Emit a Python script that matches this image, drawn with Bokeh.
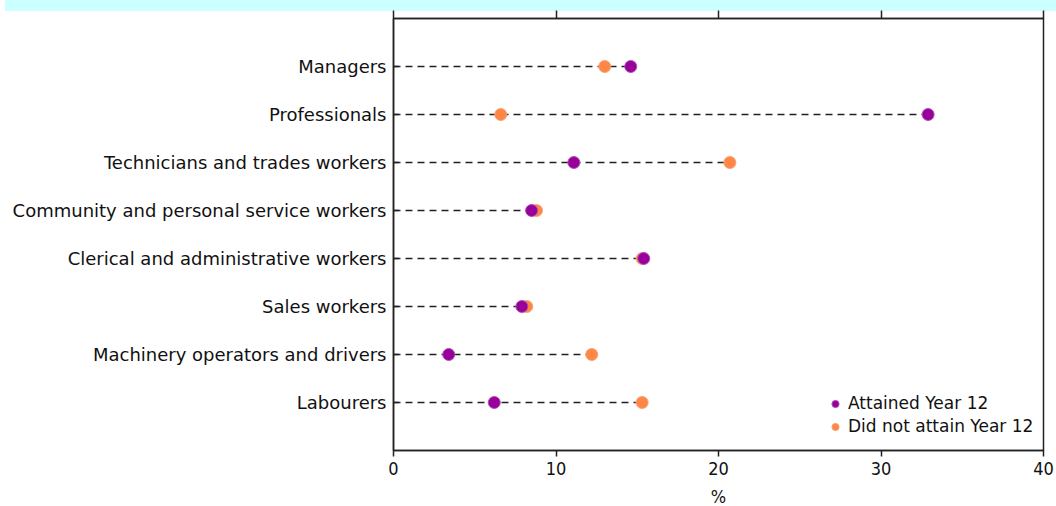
from bokeh.plotting import figure
from bokeh.models import (ColumnDataSource, FactorRange, Range1d, LinearAxis,
                          FixedTicker, Legend, LegendItem, Div, CustomLabelingPolicy)
from bokeh.layouts import column
from bokeh.embed import file_html
from bokeh.resources import INLINE

categories = [
    "Managers",
    "Professionals",
    "Technicians and trades workers",
    "Community and personal service workers",
    "Clerical and administrative workers",
    "Sales workers",
    "Machinery operators and drivers",
    "Labourers",
]
attained = [14.6, 32.9, 11.1, 8.5, 15.4, 7.9, 3.4, 6.2]
not_attained = [13.0, 6.6, 20.7, 8.8, 15.3, 8.2, 12.2, 15.3]
x_ticks = [0, 10, 20, 30, 40]
series_names = ["Attained Year 12", "Did not attain Year 12"]
x_label = "%"

PURPLE = "#990099"
ORANGE = "#ff8644"
AXIS = "#222222"

src = ColumnDataSource(dict(
    cat=categories,
    att=attained,
    nat=not_attained,
    hi=[max(a, b) for a, b in zip(attained, not_attained)],
))

factors = list(reversed(categories))
p = figure(
    y_range=FactorRange(*factors, range_padding=0.5, range_padding_units="absolute"),
    x_range=Range1d(0, 40),
    frame_width=650, frame_height=432,
    min_border_left=393, min_border_right=13, min_border_top=0, min_border_bottom=40,
    output_backend="svg", toolbar_location=None,
)
p.xgrid.visible = False
p.ygrid.visible = False
p.outline_line_color = AXIS
p.outline_line_width = 1.5
p.background_fill_color = "white"
p.border_fill_color = None

p.segment(x0=0, y0="cat", x1="hi", y1="cat", source=src,
          line_color="#222222", line_width=1.6, line_dash="7 5")
r_nat = p.scatter(x="nat", y="cat", source=src, size=12,
                  fill_color=ORANGE, line_color="#f6a477", line_width=1)
r_att = p.scatter(x="att", y="cat", source=src, size=12,
                  fill_color=PURPLE, line_color="#b050b8", line_width=1)

# bottom axis
xa = p.xaxis[0]
xa.ticker = FixedTicker(ticks=x_ticks)
xa.minor_tick_line_color = None
xa.major_tick_in = 0
xa.major_tick_out = 6
xa.axis_line_color = AXIS
xa.axis_line_width = 1.5
xa.major_tick_line_color = AXIS
xa.major_tick_line_width = 1.5
xa.major_label_text_font = "DejaVu Sans Condensed"
xa.major_label_text_font_size = "18px"
xa.major_label_text_color = "#111111"
xa.major_label_standoff = 5
xa.axis_label = x_label
xa.axis_label_text_font = "DejaVu Sans Condensed"
xa.axis_label_text_font_size = "18px"
xa.axis_label_text_font_style = "normal"
xa.axis_label_text_color = "#111111"
xa.axis_label_standoff = 8

# left axis
ya = p.yaxis[0]
ya.major_tick_in = 5
ya.major_tick_out = 0
ya.axis_line_color = AXIS
ya.axis_line_width = 1.5
ya.major_tick_line_color = AXIS
ya.major_tick_line_width = 1.5
ya.major_label_text_font = "DejaVu Sans"
ya.major_label_text_font_size = "18px"
ya.major_label_text_color = "#111111"
ya.major_label_standoff = 7

# top axis (ticks only, labels suppressed)
top = LinearAxis(ticker=FixedTicker(ticks=x_ticks))
top.minor_tick_line_color = None
top.major_tick_in = 0
top.major_tick_out = 8
top.major_label_policy = CustomLabelingPolicy(code="return new Set()")
top.major_label_text_font_size = "0px"
top.major_label_standoff = 0
top.axis_label_standoff = 0
top.axis_line_color = AXIS
top.axis_line_width = 1.5
top.major_tick_line_color = AXIS
top.major_tick_line_width = 1.5
p.add_layout(top, "above")

legend = Legend(
    items=[LegendItem(label=series_names[0], renderers=[r_att]),
           LegendItem(label=series_names[1], renderers=[r_nat])],
    location=(433, 12),
    glyph_width=18, glyph_height=23, label_height=21, spacing=0, label_standoff=4,
    padding=0, margin=0,
    border_line_color=None, background_fill_alpha=0,
    label_text_font="DejaVu Sans", label_text_font_size="17px",
    label_text_color="#111111",
)
p.add_layout(legend)

band = Div(text="", width=1056, height=14,
           styles={"background-color": "#ccffff", "margin-bottom": "-1.5px"})

layout = column(band, p, spacing=0,
                styles={"margin-top": "-8px", "margin-left": "0px"})

open("out.html", "w").write(file_html(layout, INLINE))
